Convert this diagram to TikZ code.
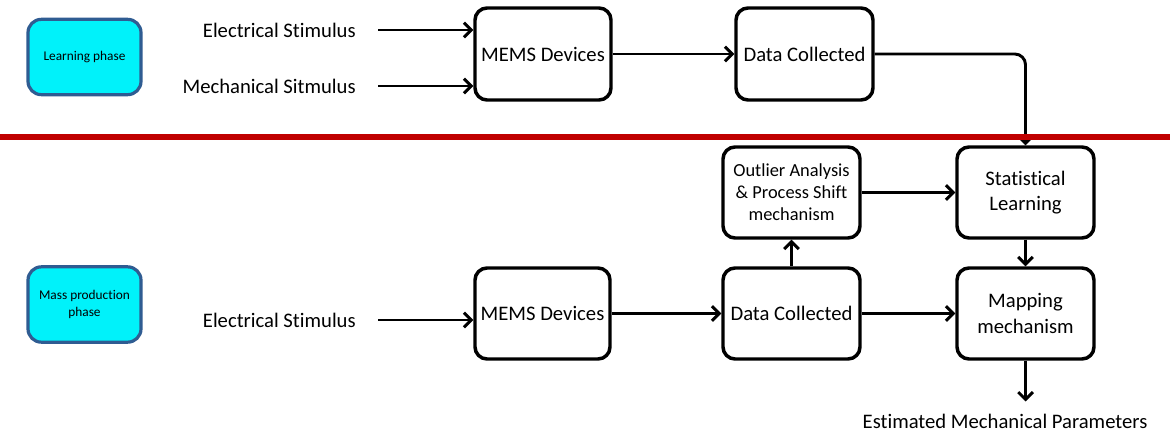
\documentclass[tikz,border=0pt]{standalone}
\usepackage{fontspec}
\setmainfont{Carlito}[Ligatures=NoCommon]
\usetikzlibrary{arrows.meta}
\definecolor{phasefill}{HTML}{00F2FA}
\definecolor{phaseedge}{HTML}{2F5C92}
\definecolor{divider}{HTML}{C00000}
\tikzset{
  blockbox/.style={draw=black, line width=2.6pt, rounded corners=9pt, fill=white,
    align=center, inner sep=0pt, font=\fontsize{15.5}{18}\selectfont},
  phasebox/.style={draw=phaseedge, fill=phasefill, line width=2.4pt, rounded corners=10pt,
    align=center, inner sep=0pt, minimum width=84.75pt, minimum height=56.5pt,
    font=\fontsize{10}{12.5}\selectfont},
  label/.style={inner sep=0pt, font=\fontsize{15.5}{18}\selectfont},
  arr/.style={line width=2.2pt, -{Straight Barb[length=5.5pt,width=11pt]}},
}
\begin{document}
\begin{tikzpicture}[x=0.75pt,y=-0.75pt]
\useasboundingbox (0,0) rectangle (1170,432);

% phase tags
\node[phasebox] (learn) at (84.5,57) {Learning phase};
\node[phasebox] (mass) at (84.5,304.5) {Mass production\\phase};

% learning phase chain
\node[label, anchor=east] (elec1) at (356,30) {Electrical Stimulus};
\node[label, anchor=east] (mech1) at (356,86) {Mechanical Sitmulus};
\node[blockbox, minimum width=102pt, minimum height=69pt] (mems1) at (543,54) {MEMS Devices};
\node[blockbox, minimum width=102.75pt, minimum height=69pt] (data1) at (804.5,54) {Data Collected};

% mass production chain
\node[blockbox, minimum width=102.75pt, minimum height=68.25pt, font=\fontsize{13.8}{16.5}\selectfont] (outl) at (791.5,192.5) {Outlier Analysis\\\& Process Shift\\mechanism};
\node[blockbox, minimum width=102.75pt, minimum height=68.25pt, font=\fontsize{15.5}{18.5}\selectfont] (stat) at (1025.5,192.5) {Statistical\\Learning};
\node[label, anchor=east] (elec2) at (356,320) {Electrical Stimulus};
\node[blockbox, minimum width=101.25pt, minimum height=68.25pt] (mems2) at (542.5,313.5) {MEMS Devices};
\node[blockbox, minimum width=102.75pt, minimum height=68.25pt] (data2) at (791.5,313.5) {Data Collected};
\node[blockbox, minimum width=102.75pt, minimum height=68.25pt, font=\fontsize{15.5}{19}\selectfont] (map) at (1025.5,313.5) {Mapping\\mechanism};
\node[label] (est) at (1005,421) {Estimated Mechanical Parameters};

% connectors
\draw[arr] ([xshift=16.5pt]elec1.east) -- (elec1.east -| mems1.west);
\draw[arr] ([xshift=16.5pt]mech1.east) -- (mech1.east -| mems1.west);
\draw[arr] (mems1) -- (data1);
\draw[arr, rounded corners=8pt] (data1.east) -| (stat.north);
\draw[arr] (outl) -- (stat);
\draw[arr] (data2) -- (outl);
\draw[arr] (stat) -- (map);
\draw[arr] ([xshift=16.5pt]elec2.east) -- (elec2.east -| mems2.west);
\draw[arr] (mems2) -- (data2);
\draw[arr] (data2) -- (map);
\draw[arr] (map.south) -- ([yshift=9pt]map.south |- est.north);

% phase divider
\draw[divider, line width=4.5pt] (0,137) -- (1170,137);
\end{tikzpicture}
\end{document}
